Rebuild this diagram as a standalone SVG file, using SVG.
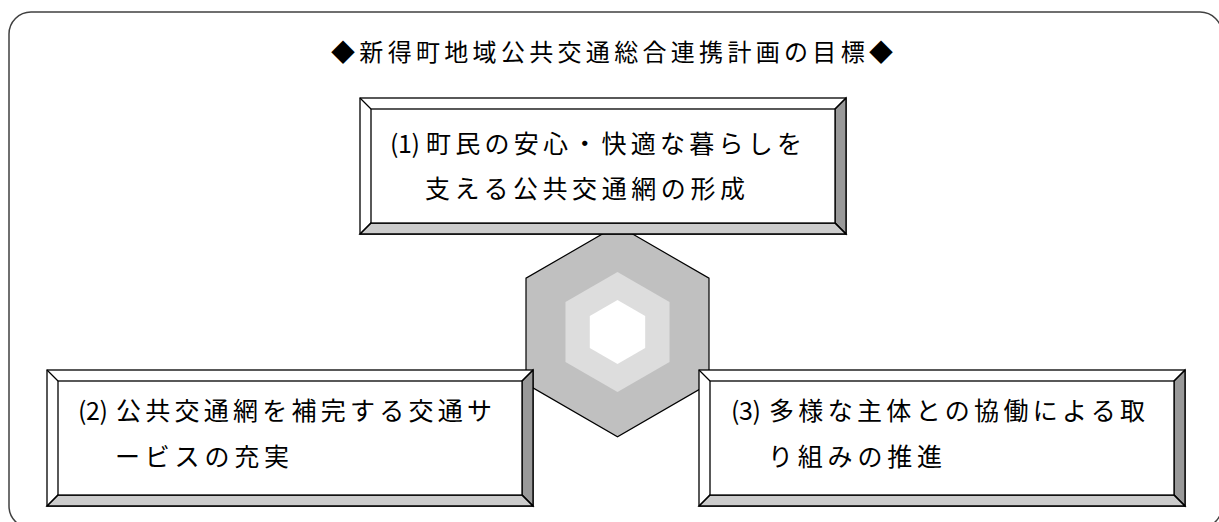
<svg xmlns="http://www.w3.org/2000/svg" xmlns:xlink="http://www.w3.org/1999/xlink" width="1219" height="522" viewBox="0 0 1219 522">
<style>
  .frame{fill:none;stroke:#404040;stroke-width:1.5}
  .t{font-family:"Noto Sans CJK JP","Noto Sans CJK SC",sans-serif;font-size:25px;fill:#000}
  .title{font-family:"Noto Sans CJK JP","Noto Sans CJK SC",sans-serif;font-size:24px;fill:#000}
  .edge{stroke:#000;stroke-width:1.3;stroke-linejoin:miter}
</style>
<defs>
  <g id="bevel">
    <rect x="0" y="0" width="486" height="136" fill="#fff" class="edge"/>
    <polygon points="486,0 486,136 475,125 475,11" fill="#999999" class="edge"/>
    <polygon points="0,136 486,136 475,125 11,125" fill="#cccccc" class="edge"/>
    <rect x="11" y="11" width="464" height="114" fill="#fff" class="edge"/>
    <line x1="0" y1="0" x2="11" y2="11" class="edge"/>
    <line x1="486" y1="0" x2="475" y2="11" class="edge"/>
    <line x1="0" y1="136" x2="11" y2="125" class="edge"/>
    <line x1="486" y1="136" x2="475" y2="125" class="edge"/>
  </g>
</defs>
<rect width="1219" height="522" fill="#fff"/>
<rect class="frame" x="9" y="12" width="1213" height="516" rx="22" ry="22"/>
<text class="title" x="331" y="61" textLength="562" lengthAdjust="spacing">◆新得町地域公共交通総合連携計画の目標◆</text>

<g id="connectors"></g>

<g id="hexagon">
  <polygon points="617.5,225.3 709,278.2 709,383.8 617.5,436.7 526,383.8 526,278.2" fill="#c0c0c0" stroke="#000" stroke-width="1.2"/>
  <polygon points="617.5,272 669.5,302 669.5,362 617.5,392 565.5,362 565.5,302" fill="#dddddd"/>
  <polygon points="617.5,300 645.2,316 645.2,348 617.5,364 589.8,348 589.8,316" fill="#ffffff"/>
</g>

<g id="goal1">
  <use xlink:href="#bevel" x="360" y="98"/>
  <text class="t" x="390" y="153" textLength="30" lengthAdjust="spacing">(1)</text>
  <text class="t" x="426" y="153" textLength="376" lengthAdjust="spacing">町民の安心・快適な暮らしを</text>
  <text class="t" x="425" y="198" textLength="320" lengthAdjust="spacing">支える公共交通網の形成</text>
</g>

<g id="goal2">
  <use xlink:href="#bevel" x="47" y="370"/>
  <text class="t" x="78" y="420" textLength="30" lengthAdjust="spacing">(2)</text>
  <text class="t" x="116" y="420" textLength="376" lengthAdjust="spacing">公共交通網を補完する交通サ</text>
  <text class="t" x="115" y="466" textLength="174" lengthAdjust="spacing">ービスの充実</text>
</g>

<g id="goal3">
  <use xlink:href="#bevel" x="699" y="370"/>
  <text class="t" x="731" y="420" textLength="30" lengthAdjust="spacing">(3)</text>
  <text class="t" x="769" y="420" textLength="376" lengthAdjust="spacing">多様な主体との協働による取</text>
  <text class="t" x="768" y="466" textLength="174" lengthAdjust="spacing">り組みの推進</text>
</g>
</svg>
